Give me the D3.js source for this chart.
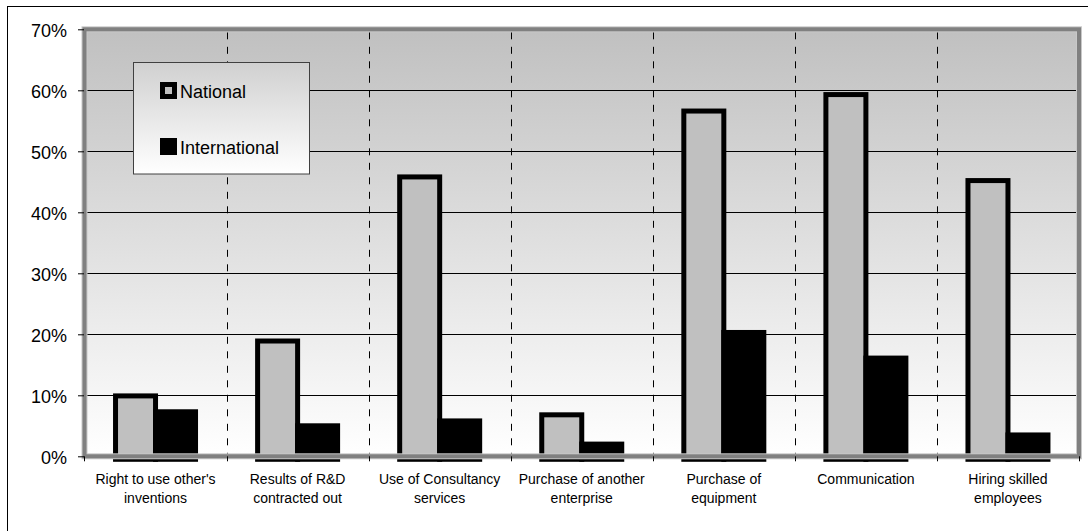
<!DOCTYPE html>
<html>
<head>
<meta charset="utf-8">
<script src="https://cdn.jsdelivr.net/npm/d3@7"></script>
<style>
  html, body { margin: 0; padding: 0; background: #fff; }
  svg { display: block; font-family: "Liberation Sans", Arial, sans-serif; }
</style>
</head>
<body>
<svg id="chart" width="1088" height="531"></svg>
<script>
// Share of firms using each source, by origin of the source
const categories = [
  "Right to use other's inventions",
  "Results of R&D contracted out",
  "Use of Consultancy services",
  "Purchase of another enterprise",
  "Purchase of equipment",
  "Communication",
  "Hiring skilled employees"
];
const categoryLines = [
  ["Right to use other's", "inventions"],
  ["Results of R&D", "contracted out"],
  ["Use of Consultancy", "services"],
  ["Purchase of another", "enterprise"],
  ["Purchase of", "equipment"],
  ["Communication"],
  ["Hiring skilled", "employees"]
];
const seriesNames = ["National", "International"];
const nationalValues = [9.9, 18.9, 45.8, 6.8, 56.6, 59.3, 45.2];
const internationalValues = [7.3, 5.0, 5.8, 2.0, 20.3, 16.1, 3.5];
const yTicks = [0, 10, 20, 30, 40, 50, 60, 70];

const rows = categories.map((c, i) => ({
  category: c,
  values: [
    { series: seriesNames[0], value: nationalValues[i] },
    { series: seriesNames[1], value: internationalValues[i] }
  ]
}));

const svg = d3.select("#chart");
const plot = { left: 84.5, right: 1079, top: 29.3, bottom: 456.3 };

const x0 = d3.scaleBand().domain(categories).range([plot.left, plot.right]).padding(0);
const x1 = d3.scaleBand().domain(seriesNames).range([0, x0.bandwidth()]).paddingInner(0).paddingOuter(0.776);
const y = d3.scaleLinear().domain([0, 70]).range([plot.bottom, plot.top]);

const defs = svg.append("defs");
const wallGrad = defs.append("linearGradient").attr("id", "wallGrad")
  .attr("x1", 0).attr("y1", 0).attr("x2", 0).attr("y2", 1);
wallGrad.append("stop").attr("offset", "0%").attr("stop-color", "#c0c0c0");
wallGrad.append("stop").attr("offset", "100%").attr("stop-color", "#ffffff");
const legendGrad = defs.append("linearGradient").attr("id", "legendGrad")
  .attr("x1", 0).attr("y1", 0).attr("x2", 0).attr("y2", 1);
legendGrad.append("stop").attr("offset", "0%").attr("stop-color", "#d0d0d0");
legendGrad.append("stop").attr("offset", "100%").attr("stop-color", "#ffffff");

// Outer chart frame
svg.append("rect")
  .attr("x", 7.5).attr("y", 6.5).attr("width", 1200).attr("height", 600)
  .attr("fill", "#fff").attr("stroke", "#000").attr("stroke-width", 1);

// Plot wall with gradient fill
svg.append("rect")
  .attr("x", plot.left).attr("y", plot.top)
  .attr("width", plot.right - plot.left).attr("height", plot.bottom - plot.top)
  .attr("fill", "url(#wallGrad)");

// Horizontal gridlines
svg.append("g").selectAll("line").data(yTicks.slice(1, -1)).join("line")
  .attr("x1", plot.left).attr("x2", plot.right)
  .attr("y1", d => Math.round(y(d)) + 0.5).attr("y2", d => Math.round(y(d)) + 0.5)
  .attr("stroke", "#000").attr("stroke-width", 1);

// Dashed category dividers
const boundaries = categories.slice(1).map(c => x0(c));
svg.append("g").selectAll("line").data(boundaries).join("line")
  .attr("x1", d => Math.round(d) + 0.5).attr("x2", d => Math.round(d) + 0.5)
  .attr("y1", plot.top + 3).attr("y2", plot.bottom)
  .attr("stroke", "#000").attr("stroke-width", 1)
  .attr("stroke-dasharray", "7,7.5");

// Bars
const groups = svg.append("g").selectAll("g").data(rows).join("g")
  .attr("transform", d => `translate(${x0(d.category)},0)`);
groups.selectAll("rect").data(d => d.values).join("rect")
  .attr("x", d => x1(d.series))
  .attr("width", x1.bandwidth())
  .attr("y", d => y(d.value))
  .attr("height", d => y(0) - y(d.value) + 3)
  .attr("fill", d => d.series === "National" ? "#c0c0c0" : "#000")
  .attr("stroke", "#000")
  .attr("stroke-width", 5);

// Wall border
svg.append("rect")
  .attr("x", plot.left).attr("y", plot.top)
  .attr("width", plot.right - plot.left).attr("height", plot.bottom - plot.top)
  .attr("fill", "none").attr("stroke", "#c8c8c8").attr("stroke-width", 6);
svg.append("rect")
  .attr("x", plot.left).attr("y", plot.top)
  .attr("width", plot.right - plot.left).attr("height", plot.bottom - plot.top)
  .attr("fill", "none").attr("stroke", "#808080").attr("stroke-width", 4);

// Y axis
const yAxis = d3.axisLeft(y).tickValues(yTicks).tickFormat(d => d + "%")
  .tickSize(6).tickPadding(11);
const yg = svg.append("g").attr("transform", `translate(${plot.left - 0.5},0)`).call(yAxis);
yg.select(".domain").remove();
yg.selectAll(".tick line").attr("stroke", "#000");
yg.selectAll(".tick text")
  .attr("font-family", "Liberation Sans, Arial, sans-serif")
  .attr("font-size", 18).attr("fill", "#000").attr("dy", "0.38em");

// X axis ticks at category boundaries
const xTickPos = categories.map(c => x0(c)).concat([x0.range()[1]]);
svg.append("g").selectAll("line").data(xTickPos).join("line")
  .attr("x1", d => Math.round(d) + 0.5).attr("x2", d => Math.round(d) + 0.5)
  .attr("y1", plot.bottom).attr("y2", plot.bottom + 5)
  .attr("stroke", "#000").attr("stroke-width", 1);

// Category labels
const labels = svg.append("g").selectAll("text").data(categories).join("text")
  .attr("text-anchor", "middle")
  .attr("font-size", 14).attr("fill", "#000")
  .attr("x", d => x0(d) + x0.bandwidth() / 2)
  .attr("y", 483.5);
labels.each(function(d, i) {
  const t = d3.select(this);
  categoryLines[i].forEach((line, j) => {
    t.append("tspan")
      .attr("x", x0(d) + x0.bandwidth() / 2)
      .attr("dy", j === 0 ? 0 : 19.2)
      .text(line);
  });
});

// Legend
const legend = svg.append("g");
legend.append("rect")
  .attr("x", 133.5).attr("y", 62.5).attr("width", 176).attr("height", 111.5)
  .attr("fill", "url(#legendGrad)").attr("stroke", "#404040").attr("stroke-width", 1);
const legendY = [84.5, 140.5];
seriesNames.forEach((name, i) => {
  legend.append("rect")
    .attr("x", 162.5).attr("y", legendY[i]).attr("width", 12).attr("height", 12)
    .attr("fill", name === "National" ? "#c0c0c0" : "#000")
    .attr("stroke", "#000").attr("stroke-width", 5);
  legend.append("text")
    .attr("x", 180).attr("y", legendY[i] + 13.5)
    .attr("font-size", 18).attr("fill", "#000")
    .text(name);
});
</script>
</body>
</html>
